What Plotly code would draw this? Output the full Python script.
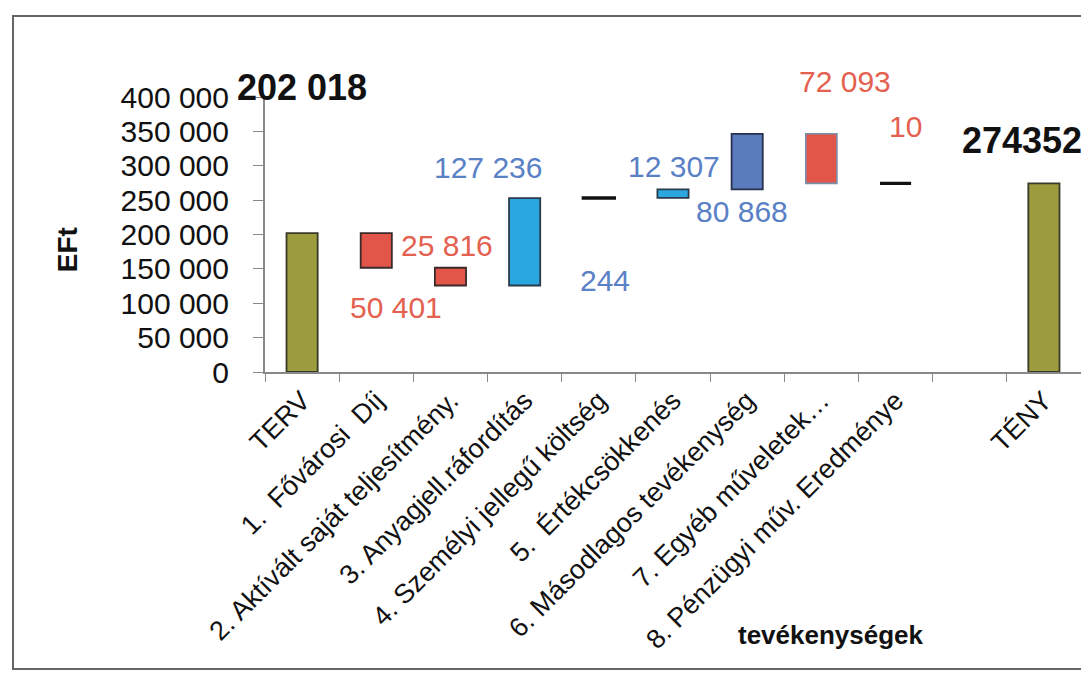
import plotly.graph_objects as go

categories = ["TERV", "1.  Fővárosi  Díj", "2. Aktívált saját teljesítmény.",
              "3. Anyagjell.ráfordítás", "4. Személyi jellegű költség",
              "5.  Értékcsökkenés", "6. Másodlagos tevékenység",
              "7. Egyéb műveletek…", "8. Pénzügyi műv. Eredménye", " ", "TÉNY"]
# measure: "total" = absolute value, "rel" = change, None = empty slot
measures = ["total", "rel", "rel", "rel", "rel", "rel", "rel", "rel", "rel", None, "total"]
values = [202018, -50401, -25816, 127236, 244, 12307, 80868, -72093, -10, None, 274352]
bar_colors = ["#9c9c3e", "#e2564a", "#e2564a", "#2aa7df", "#111111", "#2aa7df",
              "#5b7cbc", "#e2564a", "#111111", "rgba(0,0,0,0)", "#9c9c3e"]
line_colors = ["#3a3a2a", "#3a2a2a", "#3a2a2a", "#2a3a4a", "#111111", "#2a3a4a",
               "#2a3050", "#7a90aa", "#111111", "rgba(0,0,0,0)", "#3a3a2a"]
line_widths = [1.8, 1.8, 1.8, 1.8, 3.2, 1.8, 1.8, 1.6, 3.2, 0, 1.8]

y_ticks = [0, 50000, 100000, 150000, 200000, 250000, 300000, 350000, 400000]
y_ticktext = ["0", "50 000", "100 000", "150 000", "200 000", "250 000",
              "300 000", "350 000", "400 000"]
Y_MAX = 400000

# label placement (category offset, y level in axis units) - layout only
label_pos = [(0.0, 414000), (1.27, 94000), (1.95, 184000), (2.5, 298000),
             (4.08, 133000), (5.02, 299000), (5.93, 234000), (7.32, 423000),
             (8.14, 357000), None, (9.7, 337000)]

bases, heights = [], []
running = 0
for m, v in zip(measures, values):
    if m == "total":
        bases.append(0)
        heights.append(v)
        running = v
    elif m == "rel":
        if v >= 0:
            bases.append(running)
            heights.append(v)
        else:
            bases.append(running + v)
            heights.append(-v)
        running += v
    else:
        bases.append(0)
        heights.append(0)

fig = go.Figure()
fig.add_trace(go.Bar(
    x=categories, y=heights, base=bases, width=0.42,
    marker=dict(color=bar_colors, line=dict(color=line_colors, width=line_widths)),
    hoverinfo="skip", showlegend=False,
))

RED = "#e4604f"
BLUE = "#5a80c6"
FONT = "Liberation Sans, Arial, sans-serif"

for i, (m, v, pos) in enumerate(zip(measures, values, label_pos)):
    if pos is None:
        continue
    if m == "total":
        if i == 0:
            txt = f"{v:,}".replace(",", " ")
        else:
            txt = f"{v}"
        font = dict(family=FONT, size=36, color="#111111", weight="bold")
    else:
        txt = f"{abs(v):,}".replace(",", " ")
        font = dict(family=FONT, size=30, color=RED if v < 0 else BLUE)
    fig.add_annotation(x=pos[0], y=pos[1] / Y_MAX, xref="x", yref="paper", text=txt,
                       xanchor="center", yanchor="middle",
                       showarrow=False, font=font)

# axis titles
fig.add_annotation(x=-0.241, y=0.444, xref="paper", yref="paper", text="<b>EFt</b>",
                   textangle=-90, showarrow=False, xanchor="center", yanchor="middle",
                   font=dict(family=FONT, size=28, color="#111111"))
fig.add_annotation(x=0.694, y=-0.956, xref="paper", yref="paper",
                   text="<b>tevékenységek</b>", showarrow=False,
                   xanchor="center", yanchor="middle",
                   font=dict(family=FONT, size=26, color="#111111"))

# outer frame
fig.add_shape(type="rect", xref="paper", yref="paper",
              x0=-0.3088, x1=1.05, y0=-1.08, y1=1.295,
              line=dict(color="#666666", width=2), layer="below")

fig.update_layout(
    width=1089, height=675,
    margin=dict(l=257, r=16, t=89, b=311),
    paper_bgcolor="white", plot_bgcolor="white",
    font=dict(family=FONT, color="#111111"),
    bargap=0.58,
    xaxis=dict(type="category", categoryorder="array", categoryarray=categories,
               tickangle=-45, tickfont=dict(size=27, family=FONT, color="#111111"),
               showline=True, linecolor="#888888", linewidth=2,
               ticks="outside", tickson="boundaries", ticklen=8, tickcolor="#888888",
               showgrid=False, zeroline=False, range=[-0.5, 10.5]),
    yaxis=dict(range=[0, Y_MAX], tickvals=y_ticks, ticktext=y_ticktext,
               tickfont=dict(size=30, family=FONT, color="#111111"),
               showline=True, linecolor="#888888", linewidth=2,
               ticks="outside", ticklen=10, tickcolor="#888888",
               ticklabelstandoff=18,
               showgrid=False, zeroline=False),
)

fig.write_html("out.html")
